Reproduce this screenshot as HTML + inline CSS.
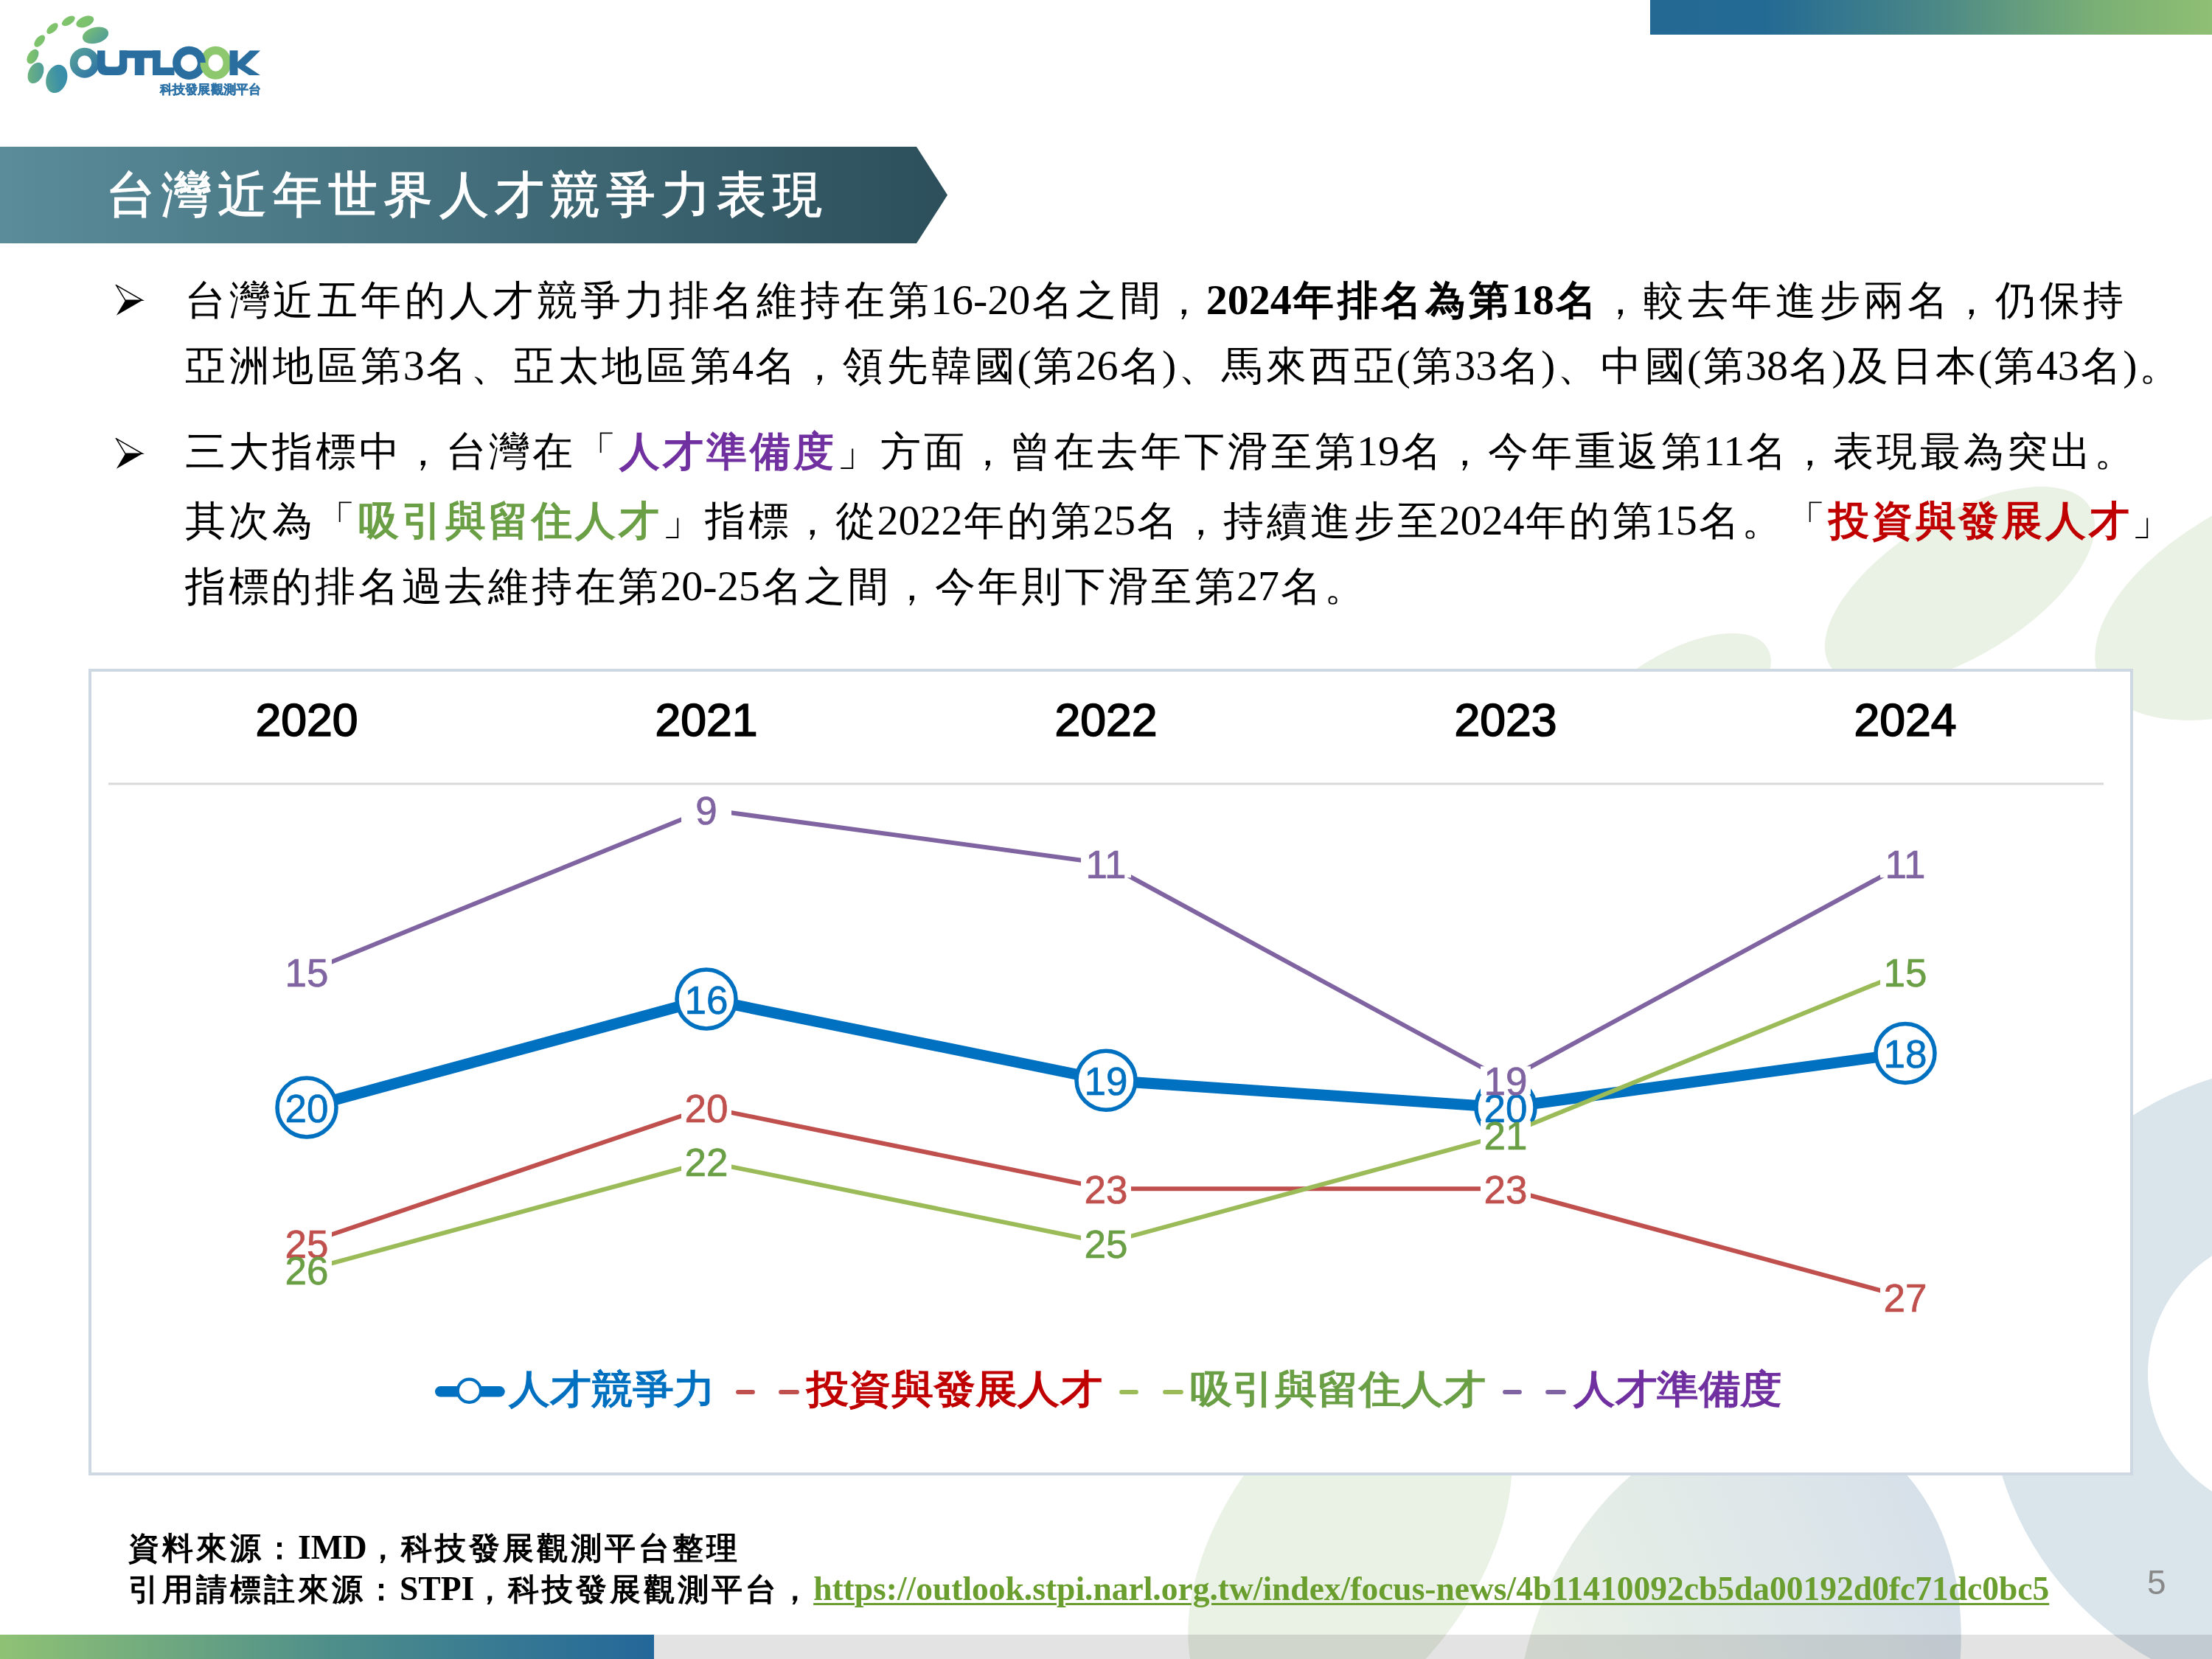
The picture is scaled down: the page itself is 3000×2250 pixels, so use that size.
<!DOCTYPE html>
<html><head><meta charset="utf-8">
<style>
html,body{margin:0;padding:0;}
body{width:3000px;height:2250px;position:relative;overflow:hidden;background:#fff;font-family:"Liberation Sans",sans-serif;}
.abs{position:absolute;}
.line{position:absolute;white-space:nowrap;font-family:"Liberation Serif",serif;font-size:55px;line-height:60px;color:#000;}
.b{font-weight:bold;}
.c{letter-spacing:4.3px;font-size:55px}
.l{font-size:58px;letter-spacing:0}
.foot{font-weight:bold;line-height:56px;white-space:nowrap;font-family:"Liberation Serif",serif}
.fc{font-size:42px}
.fl{font-size:45.5px;letter-spacing:0}
</style></head>
<body>
<!-- bottom bar -->
<div class="abs" style="left:0;top:2217px;width:3000px;height:33px;background:#e3e3e3"></div>
<div class="abs" style="left:0;top:2217px;width:887px;height:33px;background:linear-gradient(90deg,#8fc274,#4f8f8a 50%,#23679a)"></div>

<!-- background shapes -->
<svg class="abs" style="left:0;top:0;mix-blend-mode:multiply" width="3000" height="2250" viewBox="0 0 3000 2250">
  <defs>
    <linearGradient id="eg" gradientUnits="userSpaceOnUse" x1="2100" y1="2250" x2="2650" y2="2020">
      <stop offset="0" stop-color="#e9f0e6"/><stop offset="0.4" stop-color="#e2eae8"/><stop offset="1" stop-color="#d5dfe9"/>
    </linearGradient>
  </defs>
  <g fill="#eaf1e5">
    <ellipse cx="2658" cy="795" rx="206.5" ry="95.3" transform="rotate(-31.4 2658 795)"/>
    <ellipse cx="3091" cy="807" rx="269" ry="137.4" transform="rotate(-25.6 3091 807)"/>
    <ellipse cx="2270" cy="956" rx="148.7" ry="68.6" transform="rotate(-31.4 2270 956)"/>
    <ellipse cx="1831" cy="2099.5" rx="290.8" ry="174.6" transform="rotate(-55 1831 2099.5)"/>
  </g>
  <path d="M2494.3 1936.3 A373.5 284.6 -68.6 1 0 2221.7 2631.7 A373.5 284.6 -68.6 1 0 2494.3 1936.3 Z" fill="url(#eg)"/>
  <path fill="#d9e4eb" fill-rule="evenodd" d="M3556 1874 A430 430 0 1 0 2696 1874 A430 430 0 1 0 3556 1874 Z M3293 1863 A190 190 0 1 0 2913 1863 A190 190 0 1 0 3293 1863 Z"/>
</svg>

<!-- top right bar -->
<div class="abs" style="left:2238px;top:0;width:762px;height:47px;background:linear-gradient(90deg,#236993,#236a94 20%,#4a8787 50%,#7bb075 80%,#8fbf73)"></div>

<!-- logo -->
<svg class="abs" style="left:0;top:0" width="400" height="150" viewBox="0 0 400 150">
  <defs>
    <linearGradient id="dotg" gradientUnits="userSpaceOnUse" x1="60" y1="30" x2="110" y2="120">
      <stop offset="0" stop-color="#82c66a"/><stop offset="0.3" stop-color="#7bc16e"/><stop offset="0.5" stop-color="#62aa8a"/><stop offset="0.75" stop-color="#3e92a6"/><stop offset="1" stop-color="#2f86b0"/>
    </linearGradient>
    <linearGradient id="o1g" gradientUnits="userSpaceOnUse" x1="95" y1="65" x2="135" y2="106">
      <stop offset="0" stop-color="#5ba59a"/><stop offset="1" stop-color="#2a6ea6"/>
    </linearGradient>
  </defs>
  <g fill="url(#dotg)">
    <ellipse cx="129.5" cy="47.9" rx="18" ry="10.8" transform="rotate(-15 129.5 47.9)"/>
    <ellipse cx="115.3" cy="29.4" rx="12.6" ry="7" transform="rotate(-22 115.3 29.4)"/>
    <ellipse cx="92.8" cy="28.3" rx="10" ry="5.2" transform="rotate(-32 92.8 28.3)"/>
    <ellipse cx="71" cy="38.6" rx="9.4" ry="5" transform="rotate(-42 71 38.6)"/>
    <ellipse cx="53.7" cy="55.6" rx="9.6" ry="5.3" transform="rotate(-50 53.7 55.6)"/>
    <ellipse cx="44.4" cy="76.7" rx="10.8" ry="6.6" transform="rotate(-58 44.4 76.7)"/>
    <ellipse cx="48.5" cy="98.9" rx="15" ry="9.8" transform="rotate(-64 48.5 98.9)"/>
    <ellipse cx="76.8" cy="106.9" rx="19.6" ry="14" transform="rotate(-72 76.8 106.9)"/>
  </g>
  <ellipse cx="114.75" cy="85.2" rx="14.75" ry="15.15" fill="none" stroke="url(#o1g)" stroke-width="10.6"/>
  <g fill="#2a6ea0">
    <path d="M132,68.4 H142.5 V86.5 Q142.5,90.6 147,90.6 H157.5 Q162,90.6 162,86.5 V68.4 H172.4 V90 Q172.4,102 160,102 H144 Q132,102 132,90 Z"/>
    <path d="M162,68.4 H217.5 V78.8 H195.6 V102 H182.8 V78.8 H162 Z"/>
    <path d="M207,68.4 H217.5 V91.6 H236.5 V102 H207 Z"/>
    <ellipse cx="256.5" cy="85.3" rx="16.9" ry="17.1" fill="none" stroke="#2a6ea0" stroke-width="11"/>
  </g>
  <clipPath id="o2clip"><rect x="266" y="55" width="20" height="30"/></clipPath>
  <ellipse cx="292.5" cy="85.3" rx="15.5" ry="17" fill="none" stroke="#8dc86f" stroke-width="11"/>
  <ellipse cx="256.5" cy="85.3" rx="16.9" ry="17.1" fill="none" stroke="#2a6ea0" stroke-width="11" clip-path="url(#o2clip)"/>
  <g fill="#2a6ea0">
    <path d="M311.5,68.4 H322.5 V102 H311.5 Z"/>
    <path d="M320,86 L339,68.4 H353 L328,93 Z"/>
    <path d="M326,84 L353,102 H338 L320,90 Z"/>
  </g>
  <text x="217" y="126.5" font-weight="bold" font-size="17" fill="#2e73a8" stroke="#2e73a8" stroke-width="0.4" textLength="137" lengthAdjust="spacingAndGlyphs">科技發展觀測平台</text>
</svg>

<!-- title banner -->
<svg class="abs" style="left:0;top:199px" width="1300" height="131" viewBox="0 0 1300 131">
  <defs>
    <linearGradient id="tg" x1="0" y1="0" x2="1" y2="0">
      <stop offset="0" stop-color="#5a8c9a"/><stop offset="1" stop-color="#2c4f5b"/>
    </linearGradient>
  </defs>
  <polygon points="0,0 1243,0 1285,65.5 1243,131 0,131" fill="url(#tg)"/>
</svg>
<div class="abs" style="left:144px;top:219px;font-size:67px;line-height:90px;color:#fff;letter-spacing:8.3px;white-space:nowrap;-webkit-text-stroke:1.3px #fff">台灣近年世界人才競爭力表現</div>

<!-- bullets -->
<svg class="abs" style="left:156px;top:386px" width="40" height="44" viewBox="0 0 40 44"><path d="M1.9 41.8 L37.2 21.3 L14 21.3 Z" fill="#000"/><path d="M1.7 0.9 L37.2 21.3 L14 21.3 Z" fill="none" stroke="#000" stroke-width="1.5" stroke-linejoin="miter"/></svg>
<svg class="abs" style="left:156px;top:594px" width="40" height="44" viewBox="0 0 40 44"><path d="M1.9 41.8 L37.2 21.3 L14 21.3 Z" fill="#000"/><path d="M1.7 0.9 L37.2 21.3 L14 21.3 Z" fill="none" stroke="#000" stroke-width="1.5" stroke-linejoin="miter"/></svg>

<!--BODY-->
<div class="line" style="left:248.70px;top:377px"><span class="c" style="letter-spacing:4.6px;margin-left:2.30px;margin-right:-2.30px">台灣近五年的人才競爭力排名維持在第</span><span class="l">16-20</span><span class="c" style="letter-spacing:4.6px;margin-left:2.30px;margin-right:-2.30px">名之間，</span><span class="l" style="font-weight:bold">2024</span><span class="c" style="letter-spacing:4.6px;margin-left:2.30px;margin-right:-2.30px;font-weight:bold">年排名為第</span><span class="l" style="font-weight:bold">18</span><span class="c" style="letter-spacing:4.6px;margin-left:2.30px;margin-right:-2.30px;font-weight:bold">名</span><span class="c" style="letter-spacing:4.6px;margin-left:2.30px;margin-right:-2.30px">，較去年進步兩名，仍保持</span></div>
<div class="line" style="left:248.70px;top:466px"><span class="c" style="letter-spacing:4.6px;margin-left:2.30px;margin-right:-2.30px">亞洲地區第</span><span class="l">3</span><span class="c" style="letter-spacing:4.6px;margin-left:2.30px;margin-right:-2.30px">名、亞太地區第</span><span class="l">4</span><span class="c" style="letter-spacing:4.6px;margin-left:2.30px;margin-right:-2.30px">名，領先韓國</span><span class="l">(</span><span class="c" style="letter-spacing:4.6px;margin-left:2.30px;margin-right:-2.30px">第</span><span class="l">26</span><span class="c" style="letter-spacing:4.6px;margin-left:2.30px;margin-right:-2.30px">名</span><span class="l">)</span><span class="c" style="letter-spacing:4.6px;margin-left:2.30px;margin-right:-2.30px">、馬來西亞</span><span class="l">(</span><span class="c" style="letter-spacing:4.6px;margin-left:2.30px;margin-right:-2.30px">第</span><span class="l">33</span><span class="c" style="letter-spacing:4.6px;margin-left:2.30px;margin-right:-2.30px">名</span><span class="l">)</span><span class="c" style="letter-spacing:4.6px;margin-left:2.30px;margin-right:-2.30px">、中國</span><span class="l">(</span><span class="c" style="letter-spacing:4.6px;margin-left:2.30px;margin-right:-2.30px">第</span><span class="l">38</span><span class="c" style="letter-spacing:4.6px;margin-left:2.30px;margin-right:-2.30px">名</span><span class="l">)</span><span class="c" style="letter-spacing:4.6px;margin-left:2.30px;margin-right:-2.30px">及日本</span><span class="l">(</span><span class="c" style="letter-spacing:4.6px;margin-left:2.30px;margin-right:-2.30px">第</span><span class="l">43</span><span class="c" style="letter-spacing:4.6px;margin-left:2.30px;margin-right:-2.30px">名</span><span class="l">)</span><span class="c" style="letter-spacing:4.6px;margin-left:2.30px;margin-right:-2.30px">。</span></div>
<div class="line" style="left:249.04px;top:582px"><span class="c" style="letter-spacing:3.92px;margin-left:1.96px;margin-right:-1.96px">三大指標中，台灣在「</span><span class="c" style="letter-spacing:3.92px;margin-left:1.96px;margin-right:-1.96px;color:#7030a0;font-weight:bold">人才準備度</span><span class="c" style="letter-spacing:3.92px;margin-left:1.96px;margin-right:-1.96px">」方面，曾在去年下滑至第</span><span class="l">19</span><span class="c" style="letter-spacing:3.92px;margin-left:1.96px;margin-right:-1.96px">名，今年重返第</span><span class="l">11</span><span class="c" style="letter-spacing:3.92px;margin-left:1.96px;margin-right:-1.96px">名，表現最為突出。</span></div>
<div class="line" style="left:249.11px;top:676px"><span class="c" style="letter-spacing:3.78px;margin-left:1.89px;margin-right:-1.89px">其次為「</span><span class="c" style="letter-spacing:3.78px;margin-left:1.89px;margin-right:-1.89px;color:#6a9f45;font-weight:bold">吸引與留住人才</span><span class="c" style="letter-spacing:3.78px;margin-left:1.89px;margin-right:-1.89px">」指標，從</span><span class="l">2022</span><span class="c" style="letter-spacing:3.78px;margin-left:1.89px;margin-right:-1.89px">年的第</span><span class="l">25</span><span class="c" style="letter-spacing:3.78px;margin-left:1.89px;margin-right:-1.89px">名，持續進步至</span><span class="l">2024</span><span class="c" style="letter-spacing:3.78px;margin-left:1.89px;margin-right:-1.89px">年的第</span><span class="l">15</span><span class="c" style="letter-spacing:3.78px;margin-left:1.89px;margin-right:-1.89px">名。「</span><span class="c" style="letter-spacing:3.78px;margin-left:1.89px;margin-right:-1.89px;color:#c00000;font-weight:bold">投資與發展人才</span><span class="c" style="letter-spacing:3.78px;margin-left:1.89px;margin-right:-1.89px">」</span></div>
<div class="line" style="left:249.12px;top:765px"><span class="c" style="letter-spacing:3.75px;margin-left:1.88px;margin-right:-1.88px">指標的排名過去維持在第</span><span class="l">20-25</span><span class="c" style="letter-spacing:3.75px;margin-left:1.88px;margin-right:-1.88px">名之間，今年則下滑至第</span><span class="l">27</span><span class="c" style="letter-spacing:3.75px;margin-left:1.88px;margin-right:-1.88px">名。</span></div>
<!-- chart box -->
<div class="abs" style="left:120px;top:907px;width:2765px;height:1086px;border:4px solid #cdd8e2;background:#fff"></div>
<svg id="chart" class="abs" style="left:0;top:0" width="3000" height="2250" viewBox="0 0 3000 2250">
<line x1="147" y1="1063" x2="2853" y2="1063" stroke="#d9d9d9" stroke-width="3"/>
<text x="416" y="997.5" text-anchor="middle" font-family="Liberation Sans" font-size="62.5" fill="#000" stroke="#000" stroke-width="1.7">2020</text>
<text x="958" y="997.5" text-anchor="middle" font-family="Liberation Sans" font-size="62.5" fill="#000" stroke="#000" stroke-width="1.7">2021</text>
<text x="1500" y="997.5" text-anchor="middle" font-family="Liberation Sans" font-size="62.5" fill="#000" stroke="#000" stroke-width="1.7">2022</text>
<text x="2042" y="997.5" text-anchor="middle" font-family="Liberation Sans" font-size="62.5" fill="#000" stroke="#000" stroke-width="1.7">2023</text>
<text x="2584" y="997.5" text-anchor="middle" font-family="Liberation Sans" font-size="62.5" fill="#000" stroke="#000" stroke-width="1.7">2024</text>
<polyline points="416,1502.00 958,1355.00 1500,1465.25 2042,1502.00 2584,1428.50" fill="none" stroke="#0070c0" stroke-width="15" stroke-linejoin="round"/>
<circle cx="416" cy="1502.00" r="40" fill="#fff" stroke="#0070c0" stroke-width="5.5"/>
<circle cx="958" cy="1355.00" r="40" fill="#fff" stroke="#0070c0" stroke-width="5.5"/>
<circle cx="1500" cy="1465.25" r="40" fill="#fff" stroke="#0070c0" stroke-width="5.5"/>
<circle cx="2042" cy="1502.00" r="40" fill="#fff" stroke="#0070c0" stroke-width="5.5"/>
<circle cx="2584" cy="1428.50" r="40" fill="#fff" stroke="#0070c0" stroke-width="5.5"/>
<polyline points="416,1685.75 958,1502.00 1500,1612.25 2042,1612.25 2584,1759.25" fill="none" stroke="#c0504d" stroke-width="6" stroke-linejoin="round"/>
<polyline points="416,1722.50 958,1575.50 1500,1685.75 2042,1538.75 2584,1318.25" fill="none" stroke="#9bbb59" stroke-width="6" stroke-linejoin="round"/>
<polyline points="416,1318.25 958,1097.75 1500,1171.25 2042,1465.25 2584,1171.25" fill="none" stroke="#8064a2" stroke-width="6" stroke-linejoin="round"/>
<rect x="382.0" y="1666.75" width="68" height="38" fill="#fff"/>
<rect x="924.0" y="1483.00" width="68" height="38" fill="#fff"/>
<rect x="1466.0" y="1593.25" width="68" height="38" fill="#fff"/>
<rect x="2008.0" y="1593.25" width="68" height="38" fill="#fff"/>
<rect x="2550.0" y="1740.25" width="68" height="38" fill="#fff"/>
<rect x="382.0" y="1703.50" width="68" height="38" fill="#fff"/>
<rect x="924.0" y="1556.50" width="68" height="38" fill="#fff"/>
<rect x="1466.0" y="1666.75" width="68" height="38" fill="#fff"/>
<rect x="2008.0" y="1519.75" width="68" height="38" fill="#fff"/>
<rect x="2550.0" y="1299.25" width="68" height="38" fill="#fff"/>
<rect x="382.0" y="1299.25" width="68" height="38" fill="#fff"/>
<rect x="924.0" y="1078.75" width="68" height="38" fill="#fff"/>
<rect x="1466.0" y="1152.25" width="68" height="38" fill="#fff"/>
<rect x="2008.0" y="1446.25" width="68" height="38" fill="#fff"/>
<rect x="2550.0" y="1152.25" width="68" height="38" fill="#fff"/>
<text x="416" y="1521.80" text-anchor="middle" font-family="Liberation Sans" font-size="53" fill="#0070c0" stroke="#0070c0" stroke-width="0.7">20</text>
<text x="958" y="1374.80" text-anchor="middle" font-family="Liberation Sans" font-size="53" fill="#0070c0" stroke="#0070c0" stroke-width="0.7">16</text>
<text x="1500" y="1485.05" text-anchor="middle" font-family="Liberation Sans" font-size="53" fill="#0070c0" stroke="#0070c0" stroke-width="0.7">19</text>
<text x="2042" y="1521.80" text-anchor="middle" font-family="Liberation Sans" font-size="53" fill="#0070c0" stroke="#0070c0" stroke-width="0.7">20</text>
<text x="2584" y="1448.30" text-anchor="middle" font-family="Liberation Sans" font-size="53" fill="#0070c0" stroke="#0070c0" stroke-width="0.7">18</text>
<text x="416" y="1705.55" text-anchor="middle" font-family="Liberation Sans" font-size="53" fill="#c0504d" stroke="#c0504d" stroke-width="0.7">25</text>
<text x="958" y="1521.80" text-anchor="middle" font-family="Liberation Sans" font-size="53" fill="#c0504d" stroke="#c0504d" stroke-width="0.7">20</text>
<text x="1500" y="1632.05" text-anchor="middle" font-family="Liberation Sans" font-size="53" fill="#c0504d" stroke="#c0504d" stroke-width="0.7">23</text>
<text x="2042" y="1632.05" text-anchor="middle" font-family="Liberation Sans" font-size="53" fill="#c0504d" stroke="#c0504d" stroke-width="0.7">23</text>
<text x="2584" y="1779.05" text-anchor="middle" font-family="Liberation Sans" font-size="53" fill="#c0504d" stroke="#c0504d" stroke-width="0.7">27</text>
<text x="416" y="1742.30" text-anchor="middle" font-family="Liberation Sans" font-size="53" fill="#6a9f45" stroke="#6a9f45" stroke-width="0.7">26</text>
<text x="958" y="1595.30" text-anchor="middle" font-family="Liberation Sans" font-size="53" fill="#6a9f45" stroke="#6a9f45" stroke-width="0.7">22</text>
<text x="1500" y="1705.55" text-anchor="middle" font-family="Liberation Sans" font-size="53" fill="#6a9f45" stroke="#6a9f45" stroke-width="0.7">25</text>
<text x="2042" y="1558.55" text-anchor="middle" font-family="Liberation Sans" font-size="53" fill="#6a9f45" stroke="#6a9f45" stroke-width="0.7">21</text>
<text x="2584" y="1338.05" text-anchor="middle" font-family="Liberation Sans" font-size="53" fill="#6a9f45" stroke="#6a9f45" stroke-width="0.7">15</text>
<text x="416" y="1338.05" text-anchor="middle" font-family="Liberation Sans" font-size="53" fill="#8064a2" stroke="#8064a2" stroke-width="0.7">15</text>
<text x="958" y="1117.55" text-anchor="middle" font-family="Liberation Sans" font-size="53" fill="#8064a2" stroke="#8064a2" stroke-width="0.7">9</text>
<text x="1500" y="1191.05" text-anchor="middle" font-family="Liberation Sans" font-size="53" fill="#8064a2" stroke="#8064a2" stroke-width="0.7">11</text>
<text x="2042" y="1485.05" text-anchor="middle" font-family="Liberation Sans" font-size="53" fill="#8064a2" stroke="#8064a2" stroke-width="0.7">19</text>
<text x="2584" y="1191.05" text-anchor="middle" font-family="Liberation Sans" font-size="53" fill="#8064a2" stroke="#8064a2" stroke-width="0.7">11</text>
<line x1="597.3" y1="1887.3" x2="677.4" y2="1887.3" stroke="#0070c0" stroke-width="14.6" stroke-linecap="round"/>
<circle cx="636.4" cy="1886.3" r="15.6" fill="#fff" stroke="#0070c0" stroke-width="4.2"/>
<line x1="1001" y1="1888" x2="1021" y2="1888" stroke="#c0504d" stroke-width="5.8" stroke-linecap="round"/><line x1="1059" y1="1888" x2="1081" y2="1888" stroke="#c0504d" stroke-width="5.8" stroke-linecap="round"/>
<line x1="1521" y1="1888" x2="1541" y2="1888" stroke="#9bbb59" stroke-width="5.8" stroke-linecap="round"/><line x1="1580" y1="1888" x2="1602" y2="1888" stroke="#9bbb59" stroke-width="5.8" stroke-linecap="round"/>
<line x1="2041" y1="1888" x2="2061" y2="1888" stroke="#8064a2" stroke-width="5.8" stroke-linecap="round"/><line x1="2099" y1="1888" x2="2121" y2="1888" stroke="#8064a2" stroke-width="5.8" stroke-linecap="round"/>
<text x="690" y="1902" font-family="Liberation Sans" font-weight="500" font-size="53" fill="#0070c0" stroke="#0070c0" stroke-width="1.6" textLength="280" lengthAdjust="spacingAndGlyphs">人才競爭力</text>
<text x="1094" y="1902" font-family="Liberation Sans" font-weight="500" font-size="53" fill="#c00000" stroke="#c00000" stroke-width="1.6" textLength="401" lengthAdjust="spacingAndGlyphs">投資與發展人才</text>
<text x="1614" y="1902" font-family="Liberation Sans" font-weight="500" font-size="53" fill="#6a9f45" stroke="#6a9f45" stroke-width="1.6" textLength="401" lengthAdjust="spacingAndGlyphs">吸引與留住人才</text>
<text x="2134" y="1902" font-family="Liberation Sans" font-weight="500" font-size="53" fill="#7030a0" stroke="#7030a0" stroke-width="1.6" textLength="283" lengthAdjust="spacingAndGlyphs">人才準備度</text>
</svg>

<!-- footer -->
<div class="abs foot" style="left:174px;top:2071px"><span class="fc" style="letter-spacing:4.0px">資料來源：</span><span class="fl">IMD</span><span class="fc" style="letter-spacing:4.0px">，科技發展觀測平台整理</span></div>
<div class="abs foot" style="left:174px;top:2127px"><span class="fc" style="letter-spacing:4.0px">引用請標註來源：</span><span class="fl">STPI</span><span class="fc" style="letter-spacing:4.0px">，科技發展觀測平台，</span><span class="fl" style="color:#6a9e2e;text-decoration:underline;text-decoration-thickness:3px;text-underline-offset:4px">https://outlook.stpi.narl.org.tw/index/focus-news/4b11410092cb5da00192d0fc71dc0bc5</span></div>
<div class="abs" style="left:2912px;top:2118px;font-size:46px;line-height:56px;color:#888">5</div>
</body></html>
